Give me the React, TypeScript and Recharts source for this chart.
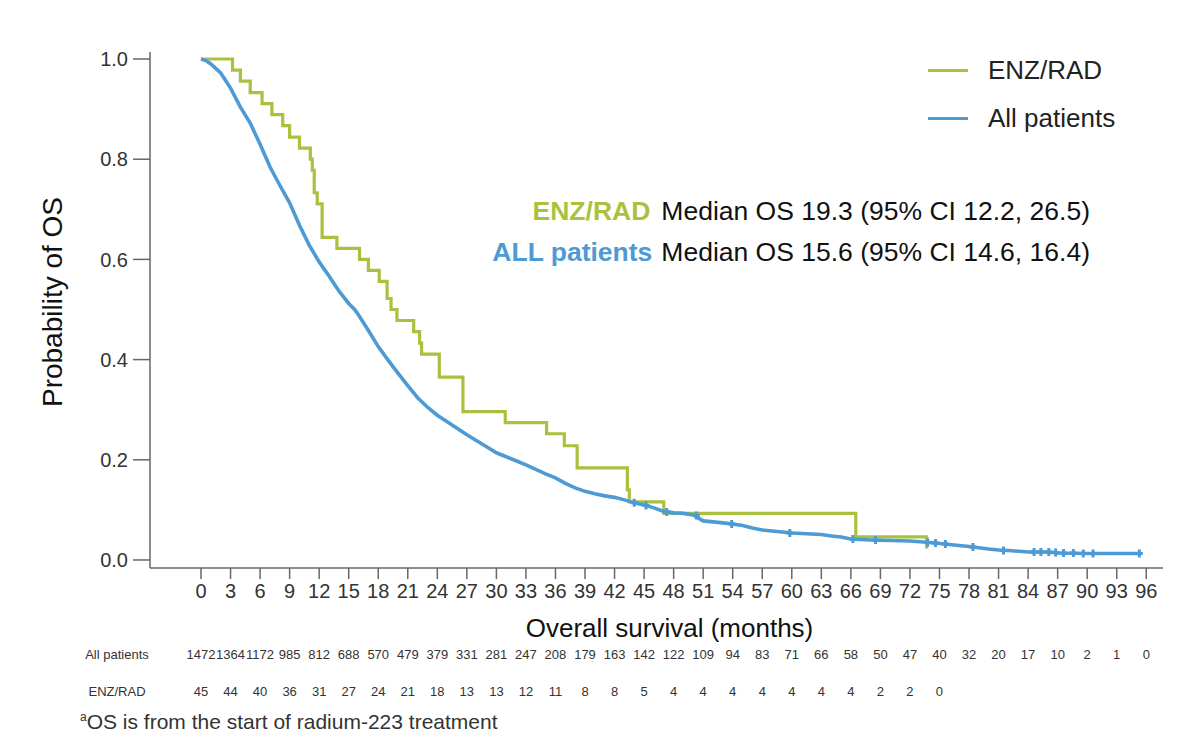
import React from 'react';
import { ComposedChart, Line, Scatter, XAxis, YAxis, Legend, Label } from 'recharts';

const GREEN = '#a9c13f';
const BLUE = '#4d9ad4';
const AXIS = '#666666';
const FONT = '"Liberation Sans", Arial, Helvetica, sans-serif';

// x-axis ticks (months) and y-axis ticks (probability)
const monthTicks = [0, 3, 6, 9, 12, 15, 18, 21, 24, 27, 30, 33, 36, 39, 42, 45, 48, 51, 54, 57, 60, 63, 66, 69, 72, 75, 78, 81, 84, 87, 90, 93, 96];
const probTicks = [0, 0.2, 0.4, 0.6, 0.8, 1.0];

// legend order, top to bottom
const seriesOrder = ['ENZ/RAD', 'All patients'];

// numbers at risk, one per 3-month tick
const atRiskAll = [1472, 1364, 1172, 985, 812, 688, 570, 479, 379, 331, 281, 247, 208, 179, 163, 142, 122, 109, 94, 83, 71, 66, 58, 50, 47, 40, 32, 20, 17, 10, 2, 1, 0];
const atRiskEnz = [45, 44, 40, 36, 31, 27, 24, 21, 18, 13, 13, 12, 11, 8, 8, 5, 4, 4, 4, 4, 4, 4, 4, 2, 2, 0];

// ENZ/RAD Kaplan-Meier steps
const enzTimes = [0, 3.2, 4.0, 5.0, 6.2, 7.2, 8.3, 9.0, 10.0, 11.1, 11.3, 11.5, 11.8, 12.3, 13.8, 16.1, 17.0, 18.1, 18.9, 19.3, 19.9, 21.6, 22.2, 22.4, 24.2, 26.6, 30.9, 35.1, 36.9, 38.2, 43.3, 43.5, 47.0, 66.5, 73.7];
const enzSurvival = [1.0, 0.978, 0.956, 0.933, 0.911, 0.889, 0.867, 0.844, 0.822, 0.8, 0.778, 0.733, 0.711, 0.644, 0.622, 0.6, 0.578, 0.556, 0.522, 0.5, 0.478, 0.456, 0.433, 0.411, 0.365, 0.296, 0.274, 0.252, 0.228, 0.184, 0.14, 0.116, 0.093, 0.046, 0.023];

// All patients Kaplan-Meier curve
const allTimes = [0, 0.5, 1, 2, 3, 4, 5, 6, 7, 8, 9, 10, 11, 12, 13, 14, 15, 15.6, 16, 17, 18, 19, 20, 21, 22, 23, 24, 25, 26, 27, 28, 29, 30, 31, 32, 33, 34, 35, 36, 37, 38, 39, 40, 41, 42, 43, 44, 45, 46, 47, 48, 49, 50, 51, 52, 53, 54, 55, 56, 57, 58, 59, 60, 61, 62, 63, 64, 65, 66, 67, 68, 70, 72, 74, 75, 76, 78, 80, 81, 82, 84, 86, 87, 90, 95.3];
const allSurvival = [1.0, 0.997, 0.99, 0.972, 0.942, 0.904, 0.872, 0.83, 0.785, 0.748, 0.713, 0.668, 0.628, 0.595, 0.567, 0.537, 0.512, 0.5, 0.489, 0.458, 0.426, 0.399, 0.373, 0.348, 0.324, 0.305, 0.289, 0.276, 0.263, 0.25, 0.238, 0.226, 0.214, 0.206, 0.198, 0.19, 0.181, 0.172, 0.164, 0.153, 0.144, 0.137, 0.132, 0.128, 0.125, 0.12, 0.114, 0.11, 0.104, 0.097, 0.094, 0.093, 0.09, 0.078, 0.076, 0.074, 0.072, 0.069, 0.064, 0.06, 0.058, 0.056, 0.054, 0.053, 0.052, 0.051, 0.048, 0.046, 0.042, 0.041, 0.04, 0.039, 0.038, 0.035, 0.033, 0.031, 0.027, 0.022, 0.02, 0.019, 0.016, 0.016, 0.014, 0.013, 0.013];

// censored observations on the All patients curve
const allCensorTimes = [44.0, 45.2, 47.3, 50.3, 53.9, 59.8, 66.2, 68.5, 73.8, 74.6, 75.6, 78.4, 81.5, 84.6, 85.3, 86.1, 86.8, 87.6, 88.6, 89.6, 90.6, 95.3];
const allCensorSurvival = [0.114, 0.109, 0.096, 0.089, 0.072, 0.054, 0.042, 0.04, 0.035, 0.034, 0.032, 0.026, 0.019, 0.016, 0.016, 0.016, 0.015, 0.014, 0.0137, 0.013, 0.013, 0.013];

const enzData = enzTimes.map((t, i) => ({ t, p: enzSurvival[i] }));
const allData = allTimes.map((t, i) => ({ t, p: allSurvival[i] }));
const censorData = allCensorTimes.map((t, i) => ({ t, p: allCensorSurvival[i] }));

const xDomain = [-5.18, 97.7];

const CensorMark = (props: any) => {
  const { cx, cy } = props;
  if (cx == null || cy == null) return null;
  return (
    <path
      d={`M${cx},${cy - 4}V${cy + 4}M${cx - 3.5},${cy}H${cx + 3.5}`}
      stroke={BLUE}
      strokeWidth={3}
      fill="none"
    />
  );
};

const renderLegend = (props: any) => {
  const items = (props.payload || [])
    .filter((e: any) => e.type !== 'none' && seriesOrder.includes(e.value))
    .sort((a: any, b: any) => seriesOrder.indexOf(a.value) - seriesOrder.indexOf(b.value));
  return (
    <div>
      {items.map((e: any) => (
        <div key={e.value} style={{ display: 'flex', alignItems: 'center', height: 48 }}>
          <span style={{ display: 'inline-block', width: 40, height: 3, background: e.color, marginRight: 20 }} />
          <span style={{ fontSize: 26, color: '#222', fontFamily: FONT }}>{e.value}</span>
        </div>
      ))}
    </div>
  );
};

const rowLabel = (text: string, dy: number) => (props: any) => {
  const y = props.viewBox ? props.viewBox.y : 0;
  return (
    <text x={117} y={y + dy} textAnchor="middle" fontSize={13} fontFamily={FONT} fill="#333">
      {text}
    </text>
  );
};

const App: React.FC = () => {
  const tickStyle = { fill: '#333', fontSize: 20, fontFamily: FONT };
  const riskStyle = { fill: '#333', fontSize: 13, fontFamily: FONT };

  return (
    <div style={{ position: 'absolute', left: 0, top: 0, width: 1200, height: 746, background: '#fff' }}>
      <ComposedChart width={1200} height={746} margin={{ top: 52, right: 37, left: 0, bottom: 28 }}>
        <XAxis
          type="number"
          dataKey="t"
          domain={xDomain}
          ticks={monthTicks}
          interval={0}
          allowDataOverflow
          height={80}
          tickSize={11}
          tickMargin={5}
          tick={tickStyle}
          axisLine={{ stroke: AXIS, strokeWidth: 1.5 }}
          tickLine={{ stroke: AXIS, strokeWidth: 1.5 }}
        >
          <Label
            content={(props: any) => {
              const vb = props.viewBox || { x: 0, y: 0, width: 0 };
              return (
                <text x={vb.x + vb.width / 2 + 13} y={vb.y + 69} textAnchor="middle" fontSize={26} fontFamily={FONT} fill="#111">
                  Overall survival (months)
                </text>
              );
            }}
          />
        </XAxis>
        <XAxis
          xAxisId="riskAll"
          type="number"
          dataKey="t"
          domain={xDomain}
          ticks={monthTicks}
          interval={0}
          allowDataOverflow
          height={35}
          tickSize={0}
          tickMargin={2}
          axisLine={false}
          tickLine={false}
          tick={riskStyle}
          tickFormatter={(v: number) => String(atRiskAll[Math.round(v / 3)])}
        >
          <Label content={rowLabel('All patients', 11)} />
        </XAxis>
        <XAxis
          xAxisId="riskEnz"
          type="number"
          dataKey="t"
          domain={xDomain}
          ticks={monthTicks.slice(0, atRiskEnz.length)}
          interval={0}
          allowDataOverflow
          height={35}
          tickSize={0}
          tickMargin={4}
          axisLine={false}
          tickLine={false}
          tick={riskStyle}
          tickFormatter={(v: number) => String(atRiskEnz[Math.round(v / 3)])}
        >
          <Label content={rowLabel('ENZ/RAD', 13)} />
        </XAxis>
        <YAxis
          type="number"
          domain={[-0.016, 1.014]}
          ticks={probTicks}
          interval={0}
          allowDataOverflow
          width={150}
          tickSize={17}
          tickMargin={5}
          tick={tickStyle}
          tickFormatter={(v: number) => v.toFixed(1)}
          axisLine={{ stroke: AXIS, strokeWidth: 1.5 }}
          tickLine={{ stroke: AXIS, strokeWidth: 1.5 }}
        >
          <Label
            content={() => (
              <text x={62} y={302} transform="rotate(-90 62 302)" textAnchor="middle" fontSize={28} fontFamily={FONT} fill="#111">
                Probability of OS
              </text>
            )}
          />
        </YAxis>
        <Legend
          layout="vertical"
          align="center"
          verticalAlign="middle"
          content={renderLegend}
          wrapperStyle={{ left: 928, top: 46, width: 'auto' }}
        />
        <Line
          data={enzData}
          dataKey="p"
          name="ENZ/RAD"
          type="stepAfter"
          stroke={GREEN}
          strokeWidth={3.2}
          dot={false}
          activeDot={false}
          isAnimationActive={false}
        />
        <Line
          data={allData}
          dataKey="p"
          name="All patients"
          type="linear"
          stroke={BLUE}
          strokeWidth={3.6}
          dot={false}
          activeDot={false}
          isAnimationActive={false}
        />
        <Scatter
          data={censorData}
          dataKey="p"
          legendType="none"
          shape={<CensorMark />}
          isAnimationActive={false}
        />
      </ComposedChart>

      <div
        style={{
          position: 'absolute',
          right: 110,
          top: 191,
          textAlign: 'right',
          fontFamily: FONT,
          fontSize: 26.5,
          lineHeight: '41px',
          color: '#111',
          whiteSpace: 'nowrap',
        }}
      >
        <div>
          <span style={{ color: GREEN, fontWeight: 'bold', marginRight: 11 }}>ENZ/RAD</span>
          Median OS 19.3 (95% CI 12.2, 26.5)
        </div>
        <div>
          <span style={{ color: BLUE, fontWeight: 'bold', marginRight: 9 }}>ALL patients</span>
          Median OS 15.6 (95% CI 14.6, 16.4)
        </div>
      </div>

      <div
        style={{
          position: 'absolute',
          left: 80,
          top: 709,
          fontFamily: FONT,
          fontSize: 21,
          lineHeight: '26px',
          color: '#333',
          whiteSpace: 'nowrap',
        }}
      >
        <sup style={{ fontSize: 12, verticalAlign: 'top', lineHeight: '16px' }}>a</sup>OS is from the start of radium-223 treatment
      </div>
    </div>
  );
};

export default App;
